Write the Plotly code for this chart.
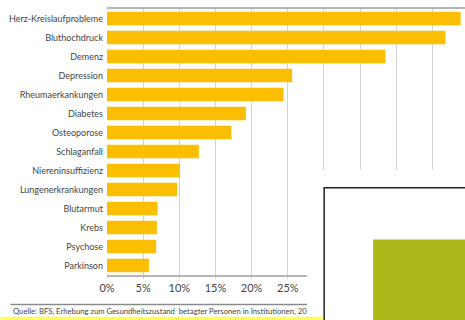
import plotly.graph_objects as go

categories = ["Herz-Kreislaufprobleme", "Bluthochdruck", "Demenz", "Depression",
              "Rheumaerkankungen", "Diabetes", "Osteoporose", "Schlaganfall",
              "Niereninsuffizienz", "Lungenerkrankungen", "Blutarmut", "Krebs",
              "Psychose", "Parkinson"]
values = [48.9, 46.8, 38.5, 25.6, 24.4, 19.2, 17.2, 12.7, 10.1, 9.7, 7.0, 6.9, 6.8, 5.8]
tick_values = [0, 5, 10, 15, 20, 25, 30, 35, 40, 45]
tick_labels = ["0%", "5%", "10%", "15%", "20%", "25%", "", "", "", ""]
source_text = "Quelle: BFS, Erhebung zum Gesundheitszustand  betagter Personen in Institutionen, 20"

W, H = 465, 320
L, R, T, B = 106.6, 0, 9, 44.5
pw = W - L - R
ph = H - T - B
x_max = pw / 7.24

def px(xp):
    return (xp - L) / pw

def py(yp):
    return (H - B - yp) / ph

FONT = "Lato, sans-serif"
TXT = "#444444"

fig = go.Figure(go.Bar(
    x=values, y=categories, orientation="h",
    marker=dict(color="#fbbe00", line=dict(width=0)),
    hoverinfo="skip",
))

fig.update_layout(
    width=W, height=H,
    margin=dict(l=L, r=R, t=T, b=B, autoexpand=False),
    paper_bgcolor="white", plot_bgcolor="white",
    bargap=0.29,
    showlegend=False,
    font=dict(family=FONT, size=9, color=TXT),
    xaxis=dict(range=[0, x_max], tickvals=tick_values, ticktext=tick_labels,
               showgrid=True, gridcolor="#d3d3d3", gridwidth=1,
               showline=True, linecolor="#b5b5b5", linewidth=1.5, mirror=True,
               ticks="outside", ticklen=2, tickcolor="#d3d3d3",
               zeroline=False, fixedrange=True,
               tickfont=dict(family=FONT, size=11, color=TXT)),
    yaxis=dict(autorange="reversed", showgrid=False, showline=False,
               ticks="", ticklabelstandoff=3, fixedrange=True,
               tickfont=dict(family=FONT, size=9, color=TXT)),
)

shapes = [
    dict(type="rect", xref="paper", yref="paper", x0=px(307), x1=px(480), y0=py(170), y1=py(330),
         fillcolor="white", line=dict(width=0), layer="above"),
    dict(type="rect", xref="paper", yref="paper", x0=px(324), x1=px(490), y0=py(188), y1=py(340),
         fillcolor="white", line=dict(color="#222222", width=1.5), layer="above"),
    dict(type="rect", xref="paper", yref="paper", x0=px(373), x1=px(480), y0=py(240), y1=py(330),
         fillcolor="#adb81a", line=dict(width=0), layer="above"),
    dict(type="line", xref="paper", yref="paper", x0=px(10), x1=px(307), y0=py(305), y1=py(305),
         line=dict(color="#8a8a8a", width=1.5), layer="above"),
    dict(type="line", xref="paper", yref="paper", x0=px(0), x1=px(323), y0=py(318.5), y1=py(318.5),
         line=dict(color="#ffff55", width=2.5), layer="above"),
]
fig.update_layout(shapes=shapes)

fig.add_annotation(text=source_text, xref="paper", yref="paper", x=px(10), y=py(311.5),
                   xanchor="left", yanchor="middle", showarrow=False,
                   font=dict(family=FONT, size=7.7, color=TXT))

fig.write_html("out.html", config={"displayModeBar": False},
               post_script="document.body.style.margin='0';")
